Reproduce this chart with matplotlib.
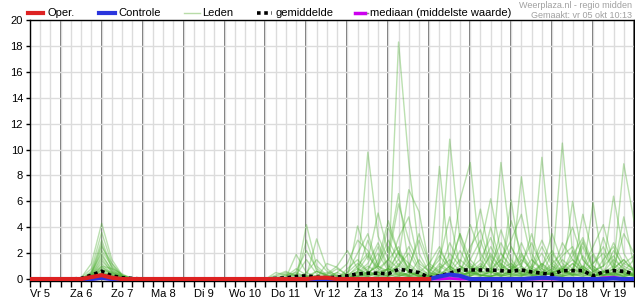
import numpy as np
import pandas as pd
import matplotlib
matplotlib.use("Agg")
import matplotlib.pyplot as plt
import matplotlib.dates as mdates
from matplotlib.lines import Line2D

plt.rcParams['font.family'] = ['Liberation Sans', 'DejaVu Sans']

# 6-hourly time steps, vr 5 okt 06:00 .. za 20 okt 00:00
times = pd.date_range("2018-10-05 06:00", periods=60, freq="6h")
day_labels = ["Vr 5", "Za 6", "Zo 7", "Ma 8", "Di 9", "Wo 10", "Do 11", "Vr 12",
              "Za 13", "Zo 14", "Ma 15", "Di 16", "Wo 17", "Do 18", "Vr 19"]

# ensemble members (mm per 6h)
members = [
    [0, 0, 0, 0, 0, 0.1, 1.2, 4.3, 1.5, 0.3,  0.1, 0, 0, 0, 0, 0, 0, 0, 0, 0,
     0, 0, 0, 0, 0, 0, 0, 4.2, 1.0, 0.3,  0, 0.2, 1.0, 2.0, 0.5, 0.2, 18.3, 9.0, 2.0, 0.5,
     0.3, 1.0, 0.5, 0.2, 0.8, 2.5, 1.0, 0.4, 0.2, 0.8,  2.0, 0.5, 0.3, 1.2, 0.6, 0.2, 0.5, 1.5, 0.8, 0.3],
    [0, 0, 0, 0, 0, 0.1, 0.8, 3.6, 1.2, 0.2,  0, 0, 0, 0, 0, 0, 0, 0, 0, 0,
     0, 0, 0, 0, 0.1, 0.3, 0.5, 0.2, 3.1, 0.8,  0.2, 0, 0.5, 9.8, 3.3, 1.5, 2.5, 0.6, 0.3, 0.1,
     0, 0.5, 1.5, 0.8, 0.3, 0.2, 9.0, 2.5, 1.0, 0.3,  0.2, 0.5, 0.8, 0.3, 1.0, 0.4, 0.2, 0.8, 1.5, 0.6],
    [0, 0, 0, 0, 0, 0, 0.6, 3.0, 0.9, 0.3,  0, 0, 0, 0, 0, 0, 0, 0, 0, 0,
     0, 0, 0, 0, 0, 0.1, 1.9, 0.5, 0.2, 0,  0, 0, 4.1, 1.5, 5.1, 2.0, 6.6, 1.0, 0.4, 0.2,
     8.7, 1.0, 0.3, 0.5, 1.2, 0.6, 0.2, 0.8, 2.0, 0.5,  0.3, 0.8, 10.5, 2.0, 0.5, 1.0, 0.3, 0.6, 0.4, 0.2],
    [0, 0, 0, 0, 0, 0, 0.5, 2.7, 0.8, 0.1,  0, 0, 0, 0, 0, 0, 0, 0, 0, 0,
     0, 0, 0, 0, 0, 0, 0, 3.0, 0.6, 0.2,  0, 0.3, 0.8, 0.4, 1.2, 3.0, 1.5, 6.9, 5.2, 1.0,
     0.5, 10.8, 3.0, 1.0, 0.5, 2.0, 0.8, 0.3, 7.9, 2.0,  0.5, 0.3, 1.0, 0.6, 2.5, 0.8, 0.3, 0.5, 0.2, 0.4],
    [0, 0, 0, 0, 0, 0, 0.4, 2.2, 1.0, 0.2,  0, 0, 0, 0, 0, 0, 0, 0, 0, 0,
     0, 0, 0, 0, 0.2, 0.5, 0.3, 0.2, 0.1, 1.2,  0.9, 0.3, 0.5, 1.2, 2.8, 1.0, 0.6, 0.3, 1.5, 0.5,
     0.2, 0.6, 6.1, 9.0, 1.5, 0.5, 0.8, 1.2, 0.4, 0.6,  9.4, 1.5, 0.6, 0.3, 0.8, 0.2, 0.5, 1.0, 8.9, 4.5],
    [0, 0, 0, 0, 0, 0, 0.5, 2.0, 0.6, 0.1,  0, 0, 0, 0, 0, 0, 0, 0, 0, 0,
     0, 0, 0, 0, 0, 0, 0.3, 1.5, 0.4, 0,  0.2, 0.5, 2.0, 3.5, 1.0, 0.4, 2.2, 0.8, 0.3, 0.2,
     0.4, 0.3, 0.6, 2.0, 5.4, 1.5, 0.5, 6.1, 1.0, 0.3,  0.5, 1.0, 0.4, 6.0, 1.5, 0.6, 0.3, 0.8, 0.4, 0.2],
    [0, 0, 0, 0, 0, 0, 0.3, 1.6, 0.5, 0.1,  0, 0, 0, 0, 0, 0, 0, 0, 0, 0,
     0, 0, 0, 0, 0, 0, 0, 0.2, 0.6, 0.3,  0, 0.8, 1.5, 0.6, 0.3, 0.5, 1.0, 2.5, 0.8, 0.3,
     1.0, 0.5, 0.3, 0.6, 1.0, 0.5, 2.0, 1.0, 0.3, 0.5,  0.8, 0.4, 1.5, 0.8, 0.3, 5.9, 1.0, 6.4, 2.0, 0.6],
    [0, 0, 0, 0, 0, 0, 0.3, 1.2, 0.4, 0.1,  0, 0, 0, 0, 0, 0, 0, 0, 0, 0,
     0, 0, 0, 0, 0, 0.2, 0.8, 0.3, 0.1, 0,  0, 0, 0, 0.5, 1.0, 4.0, 2.0, 0.5, 0.2, 0.1,
     0.3, 1.0, 0.4, 1.5, 3.0, 0.8, 0.3, 0.5, 1.0, 3.5,  0.8, 0.3, 0.6, 1.2, 0.5, 0.3, 1.5, 2.5, 0.8, 0.3],
    [0, 0, 0, 0, 0, 0, 0.2, 1.0, 0.3, 0.1,  0, 0, 0, 0, 0, 0, 0, 0, 0, 0,
     0, 0, 0, 0, 0, 0, 0, 0, 0, 0,  0, 0, 0.3, 0.8, 2.0, 0.6, 0.3, 1.0, 3.0, 0.8,
     0.2, 0.4, 1.0, 0.3, 0.2, 0.6, 1.5, 0.8, 0.4, 0.3,  1.2, 0.6, 0.3, 0.8, 2.8, 1.0, 0.4, 0.3, 1.2, 1.8],
    [0, 0, 0, 0, 0, 0, 0.2, 0.8, 0.4, 0.2,  0, 0, 0, 0, 0, 0, 0, 0, 0, 0,
     0, 0, 0, 0, 0, 0, 0, 0.1, 0.2, 0.1,  0.5, 0.2, 0, 0.3, 0.6, 1.5, 0.8, 0.2, 0.5, 1.2,
     2.5, 0.8, 0.3, 0.5, 0.2, 0.6, 3.8, 1.5, 0.5, 0.8,  0.4, 2.0, 0.8, 0.3, 0.5, 0.2, 0.6, 0.4, 0.3, 0.5],
    [0, 0, 0, 0, 0, 0, 0.2, 0.6, 0.2, 0.1,  0, 0, 0, 0, 0, 0, 0, 0, 0, 0,
     0, 0, 0, 0, 0, 0, 0, 0, 0, 0,  0, 0, 0.2, 0.4, 0.2, 0.8, 0.5, 0.3, 0.6, 0.2,
     0.5, 2.0, 1.0, 0.6, 0.3, 0.2, 0.5, 1.0, 0.6, 0.4,  0.3, 0.6, 1.8, 2.5, 0.8, 0.3, 0.2, 0.4, 0.6, 0.3],
    [0, 0, 0, 0, 0, 0, 0.1, 0.4, 0.2, 0,  0, 0, 0, 0, 0, 0, 0, 0, 0, 0,
     0, 0, 0, 0, 0, 0, 0, 0, 0.3, 0.5,  0.2, 0, 0.6, 1.8, 0.8, 0.3, 0.2, 0.5, 0.3, 0,
     0, 0.3, 0.8, 0.4, 1.0, 0.5, 0.3, 0.2, 0.5, 1.5,  0.6, 0.3, 0.2, 0.5, 1.0, 0.4, 3.2, 1.0, 0.5, 0.3],
    [0, 0, 0, 0, 0, 0, 0.1, 0.3, 0.1, 0,  0, 0, 0, 0, 0, 0, 0, 0, 0, 0,
     0, 0, 0, 0, 0, 0, 0, 0, 0, 0,  0, 0, 0, 0.2, 0.5, 0.3, 1.0, 0.6, 0.2, 0,
     0, 0.2, 0.5, 0.3, 0.8, 4.0, 1.2, 0.5, 0.3, 0.2,  0.4, 0.8, 0.5, 0.3, 0.2, 0.6, 0.3, 0.5, 4.8, 1.0],
    [0, 0, 0, 0, 0, 0, 0.1, 0.2, 0.1, 0,  0, 0, 0, 0, 0, 0, 0, 0, 0, 0,
     0, 0, 0, 0, 0, 0, 0.1, 0.2, 0, 0,  0, 0, 0.2, 0.3, 0.5, 0.2, 0.4, 0.3, 0.2, 0.1,
     0, 0.5, 0.2, 0.6, 0.3, 0.2, 0.5, 0.3, 0.8, 0.6,  0.3, 0.5, 0.8, 0.4, 0.3, 0.2, 0.5, 0.8, 0.4, 0.3],
    [0, 0, 0, 0, 0, 0, 0.1, 0.5, 0.3, 0.1,  0, 0, 0, 0, 0, 0, 0, 0, 0, 0,
     0, 0, 0, 0, 0.3, 0.6, 0.2, 0, 0, 0,  0, 0, 0, 0, 0.3, 0.8, 0.4, 0.2, 0, 0,
     0, 0, 0.3, 1.2, 0.5, 0.2, 0.6, 0.3, 0.2, 0.5,  1.2, 0.4, 0.2, 0.5, 3.0, 0.8, 0.2, 0.3, 0.6, 0.2],
    [0, 0, 0, 0, 0, 0, 0.2, 0.7, 0.3, 0.1,  0, 0, 0, 0, 0, 0, 0, 0, 0, 0,
     0, 0, 0, 0, 0, 0, 0, 0, 0, 0,  0, 0, 0.5, 0.2, 0, 0.3, 1.2, 0.5, 0.2, 0.3,
     0.6, 0.3, 0.2, 0.5, 0.3, 0.6, 0.2, 0.4, 0.3, 0.2,  0.5, 0.3, 0.6, 2.2, 0.8, 0.3, 0.2, 0.4, 0.3, 0.6],
    [0, 0, 0, 0, 0, 0, 0.1, 0.3, 0.1, 0,  0, 0, 0, 0, 0, 0, 0, 0, 0, 0,
     0, 0, 0, 0, 0, 0, 0, 0, 0, 0,  0, 0, 0, 0, 0.2, 0, 0.3, 0.2, 0, 0,
     0, 0, 0.2, 0.5, 0.3, 0.2, 0.4, 2.5, 0.8, 0.3,  0.2, 0.5, 0.3, 0.2, 0.4, 0.2, 0.3, 0.5, 0.2, 0.3],
    [0, 0, 0, 0, 0, 0, 0.2, 0.9, 0.5, 0.2,  0, 0, 0, 0, 0, 0, 0, 0, 0, 0,
     0, 0, 0, 0, 0, 0.1, 0.4, 0.2, 0, 0,  0, 0.1, 0.3, 0.5, 0.3, 0.2, 0.5, 0.3, 0.1, 0,
     0.3, 0.8, 3.5, 0.8, 0.3, 0.2, 0.3, 0.6, 0.4, 0.3,  0.5, 0.3, 0.2, 0.8, 0.5, 0.3, 0.6, 0.3, 0.2, 0.5],
    [0, 0, 0, 0, 0, 0, 0.1, 0.4, 0.2, 0,  0, 0, 0, 0, 0, 0, 0, 0, 0, 0,
     0, 0, 0, 0, 0, 0, 0, 0, 0, 0,  0, 0, 0.2, 0.6, 0.3, 0, 0.2, 0.5, 0.3, 0.2,
     0.5, 0.3, 0.2, 0.3, 0.5, 0.8, 0.3, 0.2, 0.3, 0.6,  0.3, 0.5, 0.8, 0.4, 0.2, 0.3, 0.6, 0.2, 0.5, 0.3],
    [0, 0, 0, 0, 0, 0, 0.1, 0.2, 0.1, 0,  0, 0, 0, 0, 0, 0, 0, 0, 0, 0,
     0, 0, 0, 0, 0, 0, 0, 0, 0, 0.2,  0.3, 0.1, 0, 0.2, 0.5, 0.8, 0.3, 0.2, 0, 0,
     0, 0.2, 0.3, 0.2, 0.6, 0.3, 0.2, 0.5, 2.8, 1.0,  0.5, 0.3, 0.2, 0.3, 0.5, 2.0, 0.6, 0.3, 0.2, 0.4],
    [0, 0, 0, 0, 0, 0, 0.3, 1.8, 0.7, 0.2,  0, 0, 0, 0, 0, 0, 0, 0, 0, 0,
     0, 0, 0, 0, 0.5, 0.3, 0, 0, 0, 0.4,  1.0, 2.2, 0.8, 0.3, 1.5, 4.5, 2.0, 0.8, 3.5, 1.2,
     0.6, 2.8, 1.2, 4.2, 2.0, 0.8, 1.5, 3.0, 5.0, 1.5,  0.8, 3.5, 1.2, 0.6, 5.0, 1.8, 0.5, 2.2, 1.0, 0.6],
    [0, 0, 0, 0, 0, 0, 0.4, 2.5, 1.2, 0.3,  0, 0, 0, 0, 0, 0, 0, 0, 0, 0,
     0, 0, 0, 0, 0, 0, 0.6, 2.2, 0.8, 0.2,  0.5, 1.2, 3.0, 2.2, 0.8, 1.5, 5.8, 3.0, 1.2, 0.6,
     1.5, 4.8, 1.0, 0.5, 2.5, 6.2, 2.0, 0.8, 1.2, 2.8,  1.0, 0.5, 2.8, 1.5, 0.8, 2.5, 4.2, 1.2, 0.6, 1.5],
    [0, 0, 0, 0, 0, 0, 0.2, 1.4, 0.6, 0.3,  0, 0, 0, 0, 0, 0, 0, 0, 0, 0,
     0, 0, 0, 0, 0, 0, 0, 0, 0, 0,  0, 0.5, 1.2, 0.6, 2.5, 0.8, 3.2, 4.8, 1.0, 0.3,
     2.2, 1.0, 3.5, 1.5, 0.6, 1.8, 0.8, 4.5, 2.0, 0.8,  2.5, 1.0, 0.6, 1.8, 3.2, 1.2, 2.0, 0.8, 3.5, 2.0],
    [0, 0, 0, 0, 0, 0, 0.3, 1.0, 0.8, 0.4,  0, 0, 0, 0, 0, 0, 0, 0, 0, 0,
     0, 0, 0, 0, 0, 0, 0, 0.5, 1.5, 0.6,  0.3, 0.2, 0.6, 3.0, 1.0, 2.5, 1.0, 2.0, 0.6, 0.2,
     0.8, 1.5, 0.6, 2.5, 3.8, 1.0, 2.8, 1.2, 0.5, 1.0,  3.0, 1.2, 2.0, 4.0, 1.5, 0.6, 1.0, 2.8, 1.2, 0.8],
    [0, 0, 0, 0, 0, 0, 0.2, 0.7, 0.5, 0.2,  0, 0, 0, 0, 0, 0, 0, 0, 0, 0,
     0, 0, 0, 0, 0, 0, 0, 0, 0, 0,  0, 0, 0.4, 1.0, 0.5, 0.8, 2.0, 1.2, 0.5, 0.2,
     1.2, 0.6, 2.2, 0.8, 1.5, 3.2, 1.0, 0.6, 1.8, 0.5,  1.0, 2.2, 0.8, 1.5, 0.6, 1.2, 2.5, 0.8, 1.5, 0.6],
    [0, 0, 0, 0, 0, 0, 0.1, 0.5, 0.2, 0.1,  0, 0, 0, 0, 0, 0, 0, 0, 0, 0,
     0, 0, 0, 0, 0, 0.4, 0.2, 0, 0.6, 0.3,  0.8, 0.3, 0.2, 0.5, 1.0, 0.6, 1.5, 0.5, 0.2, 0.6,
     1.8, 0.8, 0.3, 1.0, 0.6, 0.4, 1.2, 0.5, 1.5, 0.8,  0.5, 1.2, 0.6, 0.3, 1.8, 0.6, 1.0, 1.8, 0.6, 0.8],
]

# ensemble mean (gemiddelde) of all members
mean = [0, 0, 0, 0, 0, 0.05, 0.3, 0.6, 0.25, 0.1,
        0.05, 0, 0, 0, 0, 0, 0, 0, 0, 0,
        0, 0, 0, 0, 0.05, 0.1, 0.2, 0.25, 0.15, 0.1,
        0.15, 0.25, 0.4, 0.45, 0.45, 0.4, 0.75, 0.65, 0.5, 0.1,
        0.25, 0.45, 0.7, 0.7, 0.7, 0.7, 0.65, 0.6, 0.7, 0.55,
        0.45, 0.35, 0.65, 0.65, 0.65, 0.25, 0.55, 0.65, 0.6, 0.4]

# median (mediaan)
median = [0, 0, 0, 0, 0, 0, 0, 0.05, 0, 0,
          0, 0, 0, 0, 0, 0, 0, 0, 0, 0,
          0, 0, 0, 0, 0, 0, 0, 0, 0, 0,
          0, 0, 0, 0, 0, 0, 0, 0, 0, 0,
          0, 0.05, 0, 0, 0, 0, 0, 0, 0, 0,
          0, 0, 0, 0, 0, 0, 0.1, 0.15, 0, 0]

# control run (Controle)
control = [0, 0, 0, 0, 0, 0, 0, 0.1, 0, 0,
           0, 0, 0, 0, 0, 0, 0, 0, 0, 0,
           0, 0, 0, 0, 0, 0, 0, 0, 0, 0,
           0, 0, 0, 0, 0, 0, 0, 0, 0, 0,
           0.2, 0.35, 0.25, 0, 0, 0, 0, 0, 0, 0.05,
           0.1, 0.08, 0, 0, 0, 0, 0, 0.05, 0, 0]

# operational run (Oper.), only up to ma 15 00:00
oper = [0, 0, 0, 0, 0, 0, 0.15, 0.3, 0.1, 0,
        0, 0, 0, 0, 0, 0, 0, 0, 0, 0,
        0, 0, 0, 0, 0, 0, 0, 0, 0.1, 0.1,
        0, 0, 0, 0, 0, 0, 0, 0, 0, 0]

leden_color = '#4caf30'

fig = plt.figure(figsize=(6.35, 3.0), dpi=100)
ax = fig.add_axes([30 / 635, 19 / 300, 604 / 635, 261 / 300])

for m in members:
    ax.plot(times, m, color=leden_color, lw=1, alpha=0.38, zorder=3)
ax.plot(times, mean, color='black', lw=2.6, ls=(0, (1, 1)), zorder=5)
ax.plot(times, median, color='#cc00ee', lw=2, zorder=6)
ax.plot(times, control, color='#2a35dd', lw=3, zorder=7)
ax.plot(times[:len(oper)], oper, color='#dd2222', lw=3, zorder=8)

# grid: every 6 hours light, midnights dark
ax.set_xlim(times[0], times[-1])
ax.set_ylim(-0.15, 20)
ax.set_yticks(np.arange(0, 21, 2))
ax.xaxis.set_minor_locator(mdates.HourLocator(byhour=[0, 6, 12, 18]))
noon = pd.date_range("2018-10-05 12:00", periods=len(day_labels), freq="D")
ax.set_xticks(noon)
ax.set_xticklabels(day_labels)
ax.grid(True, which='both', axis='x', color='#dcdcdc', lw=1, zorder=0)
ax.grid(True, which='major', axis='y', color='#dcdcdc', lw=1, zorder=0)
for d in pd.date_range("2018-10-06", periods=15, freq="D"):
    ax.axvline(d, color='#555555', lw=1.2, zorder=1)

ax.tick_params(axis='both', which='both', direction='out', length=4, width=1,
               labelsize=8, pad=2, color='black')
ax.tick_params(axis='y', length=3)
for s in ax.spines.values():
    s.set_color('black')
    s.set_linewidth(1)

# legend strip at the top
def key(x0, x1, **kw):
    fig.add_artist(Line2D([x0 / 635, x1 / 635], [1 - 13 / 300, 1 - 13 / 300],
                          transform=fig.transFigure, **kw))

lab = dict(fontsize=8, va='center', ha='left')
key(28, 43, color='#dd2222', lw=3)
fig.text(47 / 635, 1 - 13 / 300, "Oper.", **lab)
key(99, 115, color='#2a35dd', lw=3)
fig.text(118 / 635, 1 - 13 / 300, "Controle", **lab)
key(184, 200, color='#b8dca8', lw=1)
fig.text(202 / 635, 1 - 13 / 300, "Leden", **lab)
key(257, 272, color='black', lw=2.6, ls=(0, (1, 1)))
fig.text(276 / 635, 1 - 13 / 300, "gemiddelde", **lab)
key(355, 365, color='#cc00ee', lw=2.5)
key(367, 368, color='#888888', lw=1)
fig.text(370 / 635, 1 - 13 / 300, "mediaan (middelste waarde)", **lab)
fig.text(632 / 635, 1 - 5 / 300, "Weerplaza.nl - regio midden", fontsize=6.5,
         color='#a0a0a0', ha='right', va='center')
fig.text(632 / 635, 1 - 15 / 300, "Gemaakt: vr 05 okt 10:13", fontsize=6.5,
         color='#a0a0a0', ha='right', va='center')

plt.savefig("out.png", dpi=100)
